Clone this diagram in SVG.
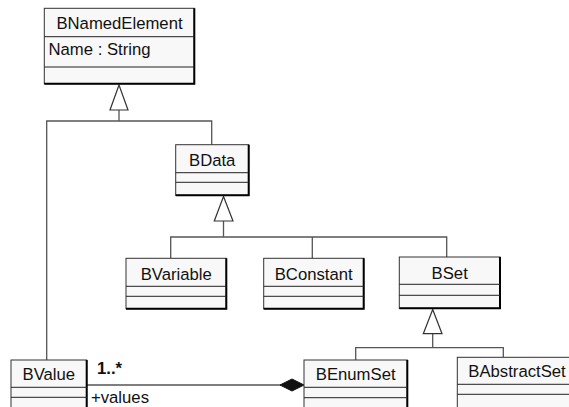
<svg xmlns="http://www.w3.org/2000/svg" width="569" height="407" viewBox="0 0 569 407">
<style>
.box{fill:#f8f8f8;stroke:#333;stroke-width:1}
.sh{fill:none;stroke:#000;stroke-width:2}
.sep{stroke:#222;stroke-width:1}
.t{font-family:"Liberation Sans",Arial,sans-serif;font-size:16.7px;fill:#111}
.c{text-anchor:middle}
.ln{fill:none;stroke:#555;stroke-width:1.3}
.tri{fill:#fff;stroke:#333;stroke-width:1.2}
</style>
<rect width="569" height="407" fill="#fff"/>
<g id="connectors">
<polyline class="ln" points="119,110 119,121"/>
<polyline class="ln" points="46.7,360 46.7,121 211.7,121 211.7,144.7"/>
<polygon class="tri" points="119,85 110,110 128,110"/>
<polyline class="ln" points="223.5,221 223.5,237"/>
<polyline class="ln" points="170.7,258.3 170.7,237 446.7,237 446.7,257"/>
<polyline class="ln" points="312.3,237 312.3,263.7"/>
<polygon class="tri" points="223.5,196.5 214.3,221 233,221"/>
<polyline class="ln" points="432.7,333.7 432.7,347.7"/>
<polyline class="ln" points="355.7,360 355.7,347.7 503.3,347.7 503.3,357.3"/>
<polygon class="tri" points="432.7,309.5 423.3,333.7 442,333.7"/>
<line class="ln" x1="86.7" y1="385" x2="281" y2="385"/>
<polygon points="280,385 292,379 304,385 292,391" fill="#111" stroke="#111" stroke-width="1"/>
<text class="t" x="97" y="374" font-weight="bold" font-size="15">1..*</text>
<text class="t" x="91" y="402.5" font-size="16">+values</text>
</g>
<g id="BNamedElement">
<rect class="box" x="44.3" y="8.3" width="150" height="75.4"/>
<polyline class="sh" points="194.3,8.3 194.3,83.7 44.3,83.7"/>
<line class="sep" x1="44.3" y1="36.7" x2="194.3" y2="36.7"/>
<line class="sep" x1="44.3" y1="67" x2="194.3" y2="67"/>
<text class="t c" x="119.5" y="29.3">BNamedElement</text>
<text class="t" x="48.5" y="55">Name : String</text>
</g>
<g id="BData">
<rect class="box" x="175.7" y="144.7" width="73" height="50.6"/>
<polyline class="sh" points="248.7,144.7 248.7,195.3 175.7,195.3"/>
<line class="sep" x1="175.7" y1="172.7" x2="248.7" y2="172.7"/>
<line class="sep" x1="175.7" y1="182.3" x2="248.7" y2="182.3"/>
<text class="t c" x="212.2" y="166">BData</text>
</g>
<g id="BVariable">
<rect class="box" x="126" y="258.3" width="100.3" height="50.4"/>
<polyline class="sh" points="226.3,258.3 226.3,308.7 126,308.7"/>
<line class="sep" x1="126" y1="286.3" x2="226.3" y2="286.3"/>
<line class="sep" x1="126" y1="296.3" x2="226.3" y2="296.3"/>
<text class="t c" x="176.2" y="280">BVariable</text>
</g>
<g id="BConstant">
<rect class="box" x="263.7" y="258.3" width="100" height="50.4"/>
<polyline class="sh" points="363.7,258.3 363.7,308.7 263.7,308.7"/>
<line class="sep" x1="263.7" y1="286.3" x2="363.7" y2="286.3"/>
<line class="sep" x1="263.7" y1="296.3" x2="363.7" y2="296.3"/>
<text class="t c" x="313.7" y="280">BConstant</text>
</g>
<g id="BSet">
<rect class="box" x="399.3" y="257" width="100.7" height="51.3"/>
<polyline class="sh" points="500,257 500,308.3 399.3,308.3"/>
<line class="sep" x1="399.3" y1="284.3" x2="500" y2="284.3"/>
<line class="sep" x1="399.3" y1="295.3" x2="500" y2="295.3"/>
<text class="t c" x="449.7" y="278.5">BSet</text>
</g>
<g id="BValue">
<rect class="box" x="11" y="360" width="75.7" height="60"/>
<polyline class="sh" points="86.7,360 86.7,420"/>
<line class="sep" x1="11" y1="387.3" x2="86.7" y2="387.3"/>
<line class="sep" x1="11" y1="397.3" x2="86.7" y2="397.3"/>
<text class="t c" x="48.8" y="380">BValue</text>
</g>
<g id="BEnumSet">
<rect class="box" x="304" y="360" width="103.3" height="60"/>
<polyline class="sh" points="407.3,360 407.3,420"/>
<line class="sep" x1="304" y1="387.3" x2="407.3" y2="387.3"/>
<line class="sep" x1="304" y1="397.7" x2="407.3" y2="397.7"/>
<text class="t c" x="355.7" y="380">BEnumSet</text>
</g>
<g id="BAbstractSet">
<rect class="box" x="457.3" y="357.3" width="120" height="60"/>
<line class="sep" x1="457.3" y1="384.3" x2="569" y2="384.3"/>
<line class="sep" x1="457.3" y1="394.3" x2="569" y2="394.3"/>
<text class="t" x="468.3" y="376.7">BAbstractSet</text>
</g>
</svg>
